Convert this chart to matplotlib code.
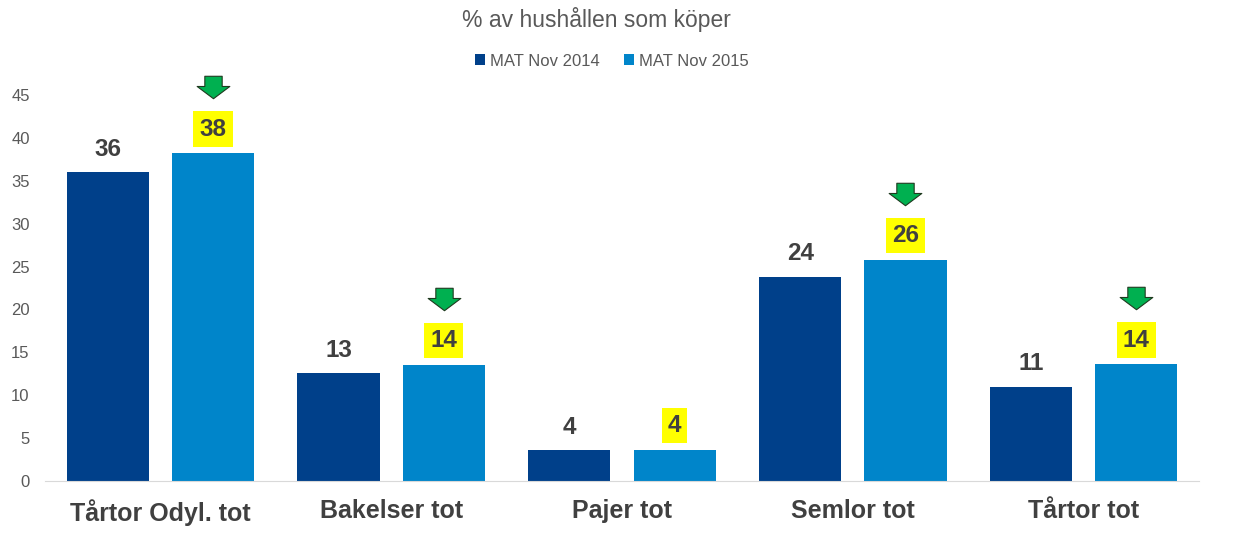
import matplotlib.pyplot as plt
import numpy as np
from matplotlib.path import Path

plt.rcParams['font.family'] = ['Liberation Sans', 'DejaVu Sans']

categories = ['Tårtor Odyl. tot', 'Bakelser tot', 'Pajer tot', 'Semlor tot', 'Tårtor tot']
mat_2014 = [36.0, 12.6, 3.6, 23.8, 11.0]
mat_2015 = [38.2, 13.5, 3.6, 25.8, 13.6]
labels_2014 = ['36', '13', '4', '24', '11']
labels_2015 = ['38', '14', '4', '26', '14']
arrow_down = [True, True, False, True, True]

dark = '#00408A'
light = '#0085CA'
txt = '#404040'

# down arrow marker
arrow = Path([(-8.5, 11), (8.5, 11), (8.5, 1), (16, 1), (0, -11), (-16, 1), (-8.5, 1), (-8.5, 11)],
             [Path.MOVETO] + [Path.LINETO] * 6 + [Path.CLOSEPOLY])

fig = plt.figure(figsize=(12.41, 5.47), dpi=100)
ax = fig.add_axes([45 / 1241, 66 / 547, 1154 / 1241, 386 / 547])

x = np.arange(len(categories))
w = 0.356
off = 0.228
b1 = ax.bar(x - off, mat_2014, w, color=dark, label='MAT Nov 2014')
b2 = ax.bar(x + off, mat_2015, w, color=light, label='MAT Nov 2015')

for xi, v, s in zip(x, mat_2014, labels_2014):
    ax.annotate(s, (xi - off, v), xytext=(0, 16.5), textcoords='offset points',
                ha='center', va='center', fontsize=17.5, fontweight='bold', color=txt)
for xi, v, s, a in zip(x, mat_2015, labels_2015, arrow_down):
    ax.annotate(s, (xi + off, v), xytext=(0, 17.5), textcoords='offset points',
                ha='center', va='center', fontsize=17.5, fontweight='bold', color=txt,
                bbox=dict(boxstyle='square,pad=0.25', fc='#FFFF00', ec='none'))
    if a:
        ax.plot(xi + off, v + 7.7, marker=arrow, markersize=23.5, color='#00B050',
                markeredgecolor='#1F3A1F', markeredgewidth=0.8, clip_on=False, linestyle='none')

ax.set_xlim(-0.5, len(categories) - 0.5)
ax.set_ylim(0, 45)
ax.set_yticks(range(0, 50, 5))
ax.set_xticks(x)
ax.set_xticklabels(categories, fontsize=18, fontweight='bold', color=txt)
ax.tick_params(axis='x', length=0, pad=13)
ax.tick_params(axis='y', length=0, pad=11, labelsize=12, labelcolor='#595959')
for s in ['top', 'right', 'left']:
    ax.spines[s].set_visible(False)
ax.spines['bottom'].set_color('#D9D9D9')

fig.text(596 / 1241, 1 - 19 / 547, '% av hushållen som köper', ha='center', va='center',
         fontsize=16.5, color='#595959')
fig.legend(handles=[b1, b2], loc='center', bbox_to_anchor=(612 / 1241, 1 - 61 / 547), ncol=2,
           frameon=False, fontsize=12, handlelength=0.6, handleheight=0.6,
           handletextpad=0.3, columnspacing=1.45, labelcolor='#595959')

fig.savefig('out.png', dpi=100)
